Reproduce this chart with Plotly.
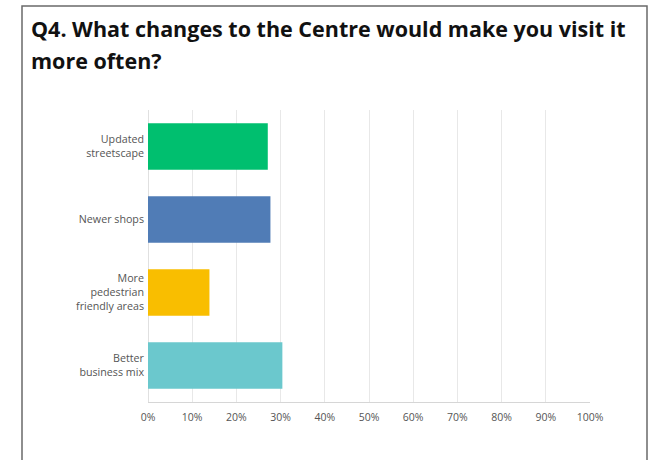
import plotly.graph_objects as go

categories = ["Updated<br>streetscape", "Newer shops", "More<br>pedestrian<br>friendly areas", "Better<br>business mix"]
values = [27.1, 27.7, 13.9, 30.4]
colors = ["#00BF6F", "#507CB6", "#F9BE00", "#6BC8CD"]
tick_vals = [0, 10, 20, 30, 40, 50, 60, 70, 80, 90, 100]
tick_text = [f"{v}%" for v in tick_vals]
title_lines = ["Q4. What changes to the Centre would make you visit it", "more often?"]

W, H = 650, 460
L, R, T, B = 148, 60, 110, 58
pw, ph = W - L - R, H - T - B

def px_to_paper_x(px):
    return (px - L) / pw

def px_to_paper_y(py):
    return (H - B - py) / ph

fig = go.Figure(go.Bar(
    x=values, y=categories, orientation="h",
    marker=dict(color=colors, line=dict(width=0)),
    hoverinfo="skip",
))

fig.update_layout(
    width=W, height=H,
    margin=dict(l=L, r=R, t=T, b=B, pad=0),
    paper_bgcolor="white", plot_bgcolor="white",
    showlegend=False,
    bargap=0.36,
    font=dict(family="Open Sans", color="#555555"),
)
fig.update_xaxes(
    range=[0, 100], tickvals=tick_vals, ticktext=tick_text,
    showgrid=True, gridcolor="#e8e8e8", gridwidth=1,
    showline=True, linecolor="#d6d6d6", linewidth=1,
    zeroline=False, ticks="", tickfont=dict(size=10.5, color="#555555"),
    ticklabelstandoff=5, fixedrange=True,
)
fig.update_yaxes(
    autorange="reversed", showgrid=False, zeroline=False,
    showline=False, ticks="", tickfont=dict(size=10.7, color="#555555"),
    ticklabelstandoff=3, fixedrange=True,
)
# left axis line at 0%
fig.add_shape(type="line", xref="x", yref="paper", x0=0, x1=0, y0=0, y1=1,
              line=dict(color="#d6d6d6", width=1.5), layer="below")

# outer frame
fig.add_shape(type="rect", xref="paper", yref="paper",
              x0=px_to_paper_x(22), x1=px_to_paper_x(647),
              y0=px_to_paper_y(475), y1=px_to_paper_y(6),
              line=dict(color="#6a6a6a", width=1.5), fillcolor="rgba(0,0,0,0)")

for i, (line, base) in enumerate(zip(title_lines, [39, 71])):
    fig.add_annotation(
        text=f"<b>{line}</b>", xref="paper", yref="paper",
        x=px_to_paper_x(29), y=px_to_paper_y(base + 6),
        xanchor="left", yanchor="bottom", showarrow=False,
        font=dict(family="Open Sans", size=21.5, color="#111111"),
    )

fig.write_html("out.html")
